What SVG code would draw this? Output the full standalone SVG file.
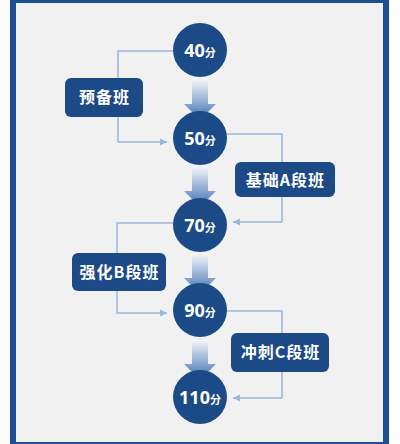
<svg xmlns="http://www.w3.org/2000/svg" width="400" height="444" viewBox="0 0 400 444">
<defs>
<linearGradient id="ag" x1="0" y1="0" x2="0" y2="1">
<stop offset="0" stop-color="#f3f5f9"/>
<stop offset="1" stop-color="#3c6eb0"/>
</linearGradient>
<marker id="ah" markerWidth="8" markerHeight="8" refX="7" refY="4" orient="auto" markerUnits="userSpaceOnUse">
<path d="M0,0.5 L7,4 L0,7.5 Z" fill="#9db7d9"/>
</marker>
<path id="bigarrow" d="M192,0 H208 V24 H216 L200,40 L184,24 H192 Z" fill="url(#ag)"/>
</defs>
<style>
.node circle{fill:#1c4a86}
.node rect{fill:#1c4a86}
.num{font-family:"Noto Sans","Noto Sans CJK SC",sans-serif;font-weight:bold;fill:#fff;text-anchor:middle}
.lbl{font-family:"Noto Sans CJK SC","Noto Sans",sans-serif;font-weight:bold;fill:#fff;text-anchor:middle;font-size:16px;letter-spacing:1px}
.conn path{fill:none;stroke:#9db7d9;stroke-width:1.5;marker-end:url(#ah)}
</style>
<rect x="0" y="0" width="400" height="444" fill="#fdfdfd"/>
<rect x="10" y="0" width="379" height="444" fill="#1e4f91"/>
<rect x="16" y="3" width="367" height="439" fill="#f1f1f1"/>
<g id="flow-arrows">
<use href="#bigarrow" transform="translate(0,80)"/>
<use href="#bigarrow" transform="translate(0,167)"/>
<use href="#bigarrow" transform="translate(0,254)"/>
<use href="#bigarrow" transform="translate(0,340)"/>
</g>
<g id="connectors" class="conn">
<path d="M173,51 H118 V142 H167"/>
<path d="M227,134 H282 V222 H233"/>
<path d="M173,223 H117 V313 H167"/>
<path d="M227,311 H282 V398 H233"/>
</g>
<g id="n40" class="node"><circle cx="200" cy="50" r="27"/><text class="num" x="200" y="56.5"><tspan font-size="18">40</tspan><tspan font-size="11">分</tspan></text></g>
<g id="n50" class="node"><circle cx="200" cy="138" r="27"/><text class="num" x="200" y="144.5"><tspan font-size="18">50</tspan><tspan font-size="11">分</tspan></text></g>
<g id="n70" class="node"><circle cx="200" cy="225" r="27"/><text class="num" x="200" y="231.5"><tspan font-size="18">70</tspan><tspan font-size="11">分</tspan></text></g>
<g id="n90" class="node"><circle cx="200" cy="310" r="27"/><text class="num" x="200" y="316.5"><tspan font-size="18">90</tspan><tspan font-size="11">分</tspan></text></g>
<g id="n110" class="node"><circle cx="200" cy="397" r="27"/><text class="num" x="200" y="403.5"><tspan font-size="18">110</tspan><tspan font-size="11">分</tspan></text></g>
<g id="prep" class="node"><rect x="65" y="78" width="78" height="39" rx="6"/><text class="lbl" x="104.5" y="103">预备班</text></g>
<g id="classA" class="node"><rect x="235" y="162" width="100" height="35" rx="6"/><text class="lbl" x="285.5" y="185.5">基础A段班</text></g>
<g id="classB" class="node"><rect x="72" y="253" width="94" height="38" rx="6"/><text class="lbl" x="119.5" y="277.5">强化B段班</text></g>
<g id="classC" class="node"><rect x="231" y="333" width="98" height="39" rx="6"/><text class="lbl" x="280.5" y="358">冲刺C段班</text></g>
</svg>
